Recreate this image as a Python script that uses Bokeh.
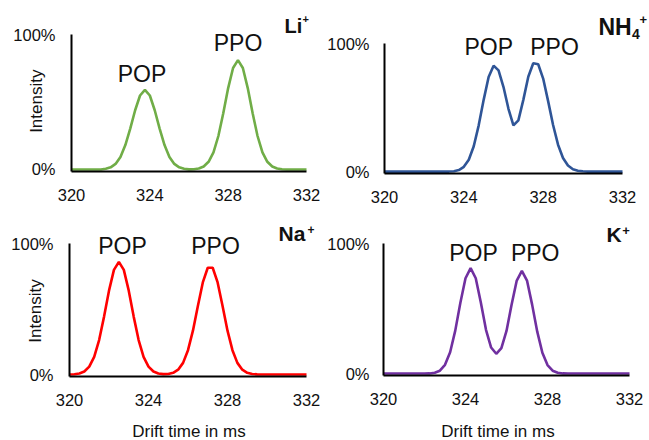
from bokeh.plotting import figure
from bokeh.models import Label, Range1d, FixedTicker
from bokeh.layouts import column, row
from bokeh.embed import file_html
from bokeh.resources import INLINE

# ---------------- data ----------------
drift_ms = [320.0, 320.25, 320.5, 320.75, 321.0, 321.25, 321.5, 321.75,
            322.0, 322.25, 322.5, 322.75, 323.0, 323.25, 323.5, 323.75,
            324.0, 324.25, 324.5, 324.75, 325.0, 325.25, 325.5, 325.75,
            326.0, 326.25, 326.5, 326.75, 327.0, 327.25, 327.5, 327.75,
            328.0, 328.25, 328.5, 328.75, 329.0, 329.25, 329.5, 329.75,
            330.0, 330.25, 330.5, 330.75, 331.0, 331.25, 331.5, 331.75, 332.0]

li_intensity = [0, 0, 0, 0, 0, 0, 0, 0.005,
                0.016, 0.041, 0.093, 0.181, 0.303, 0.439, 0.548, 0.59,
                0.548, 0.439, 0.303, 0.181, 0.093, 0.041, 0.016, 0.005,
                0.001, 0.002, 0.007, 0.022, 0.057, 0.127, 0.248, 0.416,
                0.603, 0.752, 0.81, 0.752, 0.603, 0.416, 0.248, 0.127,
                0.057, 0.022, 0.007, 0.002, 0, 0, 0, 0, 0]

nh4_intensity = [0, 0, 0, 0, 0, 0, 0, 0,
                 0, 0, 0, 0, 0, 0, 0.003, 0.012,
                 0.037, 0.092, 0.198, 0.361, 0.56, 0.738, 0.827, 0.79,
                 0.66, 0.49, 0.36, 0.40, 0.56, 0.74, 0.846, 0.838,
                 0.726, 0.55, 0.364, 0.21, 0.106, 0.047, 0.018, 0.006,
                 0.002, 0, 0, 0, 0, 0, 0, 0, 0]

na_intensity = [0, 0.002, 0.008, 0.023, 0.06, 0.135, 0.263, 0.442,
                0.64, 0.799, 0.86, 0.799, 0.64, 0.442, 0.263, 0.135,
                0.06, 0.023, 0.008, 0.003, 0.004, 0.013, 0.037, 0.089,
                0.186, 0.335, 0.523, 0.703, 0.815, 0.815, 0.703, 0.523,
                0.335, 0.186, 0.089, 0.037, 0.013, 0.004, 0.001, 0,
                0, 0, 0, 0, 0, 0, 0, 0, 0]

k_intensity = [0, 0, 0, 0, 0, 0, 0, 0,
               0, 0.001, 0.006, 0.022, 0.067, 0.164, 0.33, 0.544,
               0.733, 0.81, 0.733, 0.545, 0.336, 0.20, 0.152, 0.195,
               0.328, 0.531, 0.715, 0.79, 0.715, 0.53, 0.322, 0.16,
               0.065, 0.022, 0.006, 0.001, 0, 0, 0, 0,
               0, 0, 0, 0, 0, 0, 0, 0, 0]

x_ticks = [320, 324, 328, 332]
y_ticks = [0, 1]
y_tick_labels = {0: "0%", 1: "100%"}
peak_names = ["POP", "PPO"]
y_title = "Intensity"
x_title = "Drift time in ms"

FONT = "Liberation Sans"
INK = "#111111"
X0, X1 = 320, 332
Y_AXIS = -0.015


def panel(yvals, color, ox, oy, w, h, L, R, T, B, ystand):
    """ox, oy: position of the figure in the picture; L/R: picture x of 320/332;
    T: picture y of 100 %; B: picture y of the x-axis line."""
    sx = (R - L) / (X1 - X0)
    sy = (B - T) / (1 - Y_AXIS)
    xr = Range1d(X0 - (L - ox) / sx, X0 + (ox + w - L) / sx)
    yr = Range1d(1 - (oy + h - T) / sy, 1 + (T - oy) / sy)
    p = figure(width=w, height=h, x_range=xr, y_range=yr, title=None,
               output_backend="svg", toolbar_location=None,
               min_border=0, min_border_left=0, min_border_right=0,
               min_border_top=0, min_border_bottom=0)
    p.outline_line_color = None
    p.background_fill_color = "white"
    p.border_fill_color = "white"
    p.xgrid.visible = False
    p.ygrid.visible = False
    p.line(drift_ms, yvals, line_color=color, line_width=2.6)
    for ax in (p.xaxis, p.yaxis):
        ax.axis_line_color = "black"
        ax.axis_line_width = 2
        ax.major_tick_line_color = None
        ax.minor_tick_line_color = None
        ax.major_label_text_font = FONT
        ax.major_label_text_font_size = "16.5px"
        ax.major_label_text_color = INK
    p.xaxis.ticker = FixedTicker(ticks=x_ticks)
    p.xaxis.fixed_location = Y_AXIS
    p.xaxis.bounds = (X0, X1)
    p.xaxis.major_label_standoff = 11
    p.yaxis.ticker = FixedTicker(ticks=y_ticks)
    p.yaxis.major_label_overrides = y_tick_labels
    p.yaxis.fixed_location = X0
    p.yaxis.bounds = (Y_AXIS, 1)
    p.yaxis.major_label_standoff = ystand
    p._origin = (ox, oy, h)
    return p


def lab(p, text, X, Y, size, bold=False, align="left", angle=0.0):
    """X, Y: picture position (anchor x, text baseline y)."""
    ox, oy, h = p._origin
    px = float(size.replace("px", ""))
    shift = 0.33 * px          # measured offset of the rendered baseline
    x, y = X - ox, oy + h - Y
    if angle:
        x -= shift
    else:
        y += shift
    p.add_layout(Label(x=x, y=y, x_units="screen", y_units="screen",
                       text=text, text_font=FONT, text_font_size=size,
                       text_font_style="bold" if bold else "normal",
                       text_color=INK, text_align=align,
                       text_baseline="alphabetic", angle=angle))


# Li+
p1 = panel(li_intensity, "#70AD47", 0, 0, 324, 213, 71, 306, 34, 171, 10)
lab(p1, peak_names[0], 141.5, 80.7, "23px", align="center")
lab(p1, peak_names[1], 237.5, 50, "23px", align="center")
lab(p1, "Li", 284, 31.7, "20px", bold=True)
lab(p1, "+", 302, 22, "11px", bold=True)
lab(p1, y_title, 42, 100.7, "17px", align="center", angle=1.5708)

# NH4+
p2 = panel(nh4_intensity, "#2F5597", 324, 0, 325, 213, 384, 622, 43, 173, 9)
lab(p2, peak_names[0], 488.3, 54, "23px", align="center")
lab(p2, peak_names[1], 554, 54, "23px", align="center")
lab(p2, "NH", 598, 34.3, "23px", bold=True)
lab(p2, "4", 631.5, 38, "14px", bold=True)
lab(p2, "+", 639, 23.5, "13px", bold=True)

# Na+
p3 = panel(na_intensity, "#FF0000", 0, 213, 324, 227, 69, 306, 243, 376, 10)
lab(p3, peak_names[0], 122, 252.7, "23px", align="center")
lab(p3, peak_names[1], 215, 252.7, "23px", align="center")
lab(p3, "Na", 278, 240, "21px", bold=True)
lab(p3, "+", 307, 232.5, "12px", bold=True)
lab(p3, y_title, 40.5, 310.5, "17px", align="center", angle=1.5708)
lab(p3, x_title, 188.5, 437, "17px", align="center")

# K+
p4 = panel(k_intensity, "#7030A0", 324, 213, 325, 227, 383, 629, 243, 375, 8)
lab(p4, peak_names[0], 473, 260, "23px", align="center")
lab(p4, peak_names[1], 534.7, 260, "23px", align="center")
lab(p4, "K", 606, 240.7, "21px", bold=True)
lab(p4, "+", 621.7, 234.3, "13px", bold=True)
lab(p4, x_title, 497.5, 437, "17px", align="center")

layout = column(row(p1, p2), row(p3, p4))
open("out.html", "w").write(file_html(layout, INLINE))
